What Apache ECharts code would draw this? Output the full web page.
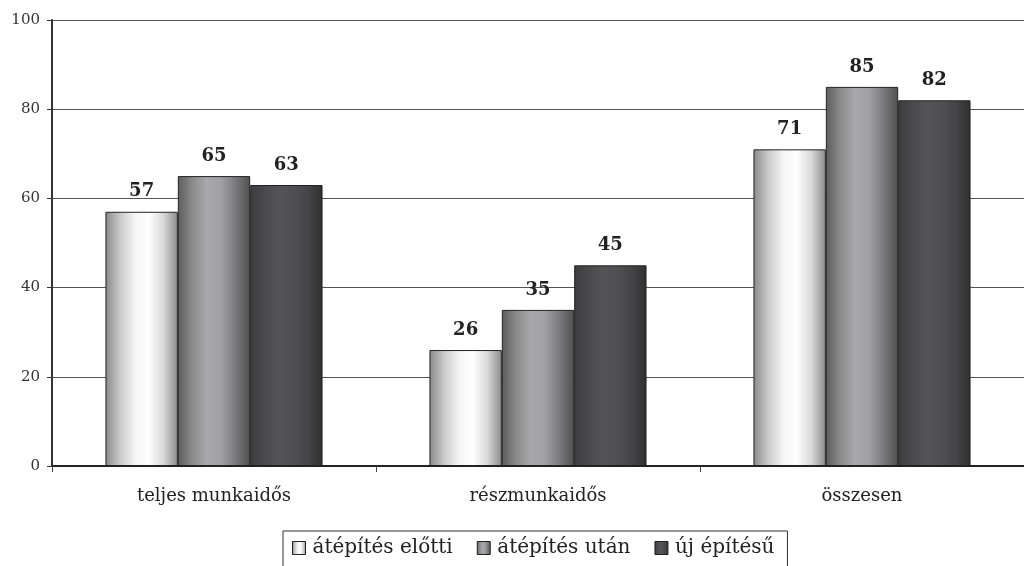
<!DOCTYPE html>
<html>
<head>
<meta charset="utf-8">
<script src="https://cdn.jsdelivr.net/npm/echarts@6/dist/echarts.min.js"></script>
<style>
html, body { margin: 0; padding: 0; background: #fff; }
#chart { width: 1024px; height: 566px; }
</style>
</head>
<body>
<div id="chart"></div>
<script>
var categories = ['teljes munkaidős', 'részmunkaidős', 'összesen'];
var seriesNames = ['átépítés előtti', 'átépítés után', 'új építésű'];
var elotti = [57, 26, 71];
var utan = [65, 35, 85];
var uj = [63, 45, 82];
var yTicks = { min: 0, max: 100, interval: 20 };

var serif = '"DejaVu Serif", "Liberation Serif", serif';

function grad(stops) {
    return new echarts.graphic.LinearGradient(0, 0, 1, 0, stops.map(function (c, i) {
        return { offset: i / (stops.length - 1), color: c };
    }));
}

var fills = [
    grad(['#8a8a8a', '#c8c8c8', '#f4f4f4', '#ffffff', '#d8d8d8', '#8c8c8c']),
    grad(['#5c5c5c', '#8a8a8a', '#a8a8aa', '#a0a0a2', '#7a7a7c', '#4e4e4e']),
    grad(['#3c3c3e', '#4a4a4c', '#545456', '#505052', '#444446', '#303030'])
];

function makeSeries(name, data, i) {
    return {
        name: name,
        type: 'bar',
        data: data,
        barGap: '0%',
        barCategoryGap: '33%',
        itemStyle: { color: fills[i], borderColor: '#222', borderWidth: 1 },
        label: {
            show: true,
            position: 'top',
            distance: 11,
            fontFamily: serif,
            fontWeight: 'bold',
            fontSize: 18,
            color: '#222'
        }
    };
}

var option = {
    animation: false,
    backgroundColor: '#fff',
    grid: { left: 52, top: 20, width: 978, bottom: 100, containLabel: false },
    legend: {
        top: 531,
        left: 283,
        icon: 'rect',
        itemWidth: 13,
        itemHeight: 13,
        itemGap: 24,
        borderColor: '#333',
        borderWidth: 1,
        padding: [7, 13, 14, 9],
        textStyle: { fontFamily: serif, fontSize: 20, color: '#222', padding: [0, 0, 0, 2] },
        itemStyle: { borderColor: '#222', borderWidth: 1 },
        data: seriesNames
    },
    xAxis: {
        type: 'category',
        data: categories,
        axisLine: { lineStyle: { color: '#222', width: 2 } },
        axisTick: { show: true, length: 6, lineStyle: { color: '#444' } },
        axisLabel: { fontFamily: serif, fontSize: 18, color: '#222', margin: 21 }
    },
    yAxis: {
        type: 'value',
        min: yTicks.min,
        max: yTicks.max,
        interval: yTicks.interval,
        axisLine: { show: true, lineStyle: { color: '#333', width: 2 } },
        axisTick: { show: true, length: 5, inside: false, lineStyle: { color: '#333' } },
        axisLabel: { fontFamily: serif, fontSize: 15, color: '#333', margin: 12 },
        splitLine: { lineStyle: { color: '#555', width: 1 } }
    },
    series: [
        makeSeries(seriesNames[0], elotti, 0),
        makeSeries(seriesNames[1], utan, 1),
        makeSeries(seriesNames[2], uj, 2)
    ]
};

var chart = echarts.init(document.getElementById('chart'));
chart.setOption(option);
</script>
</body>
</html>
